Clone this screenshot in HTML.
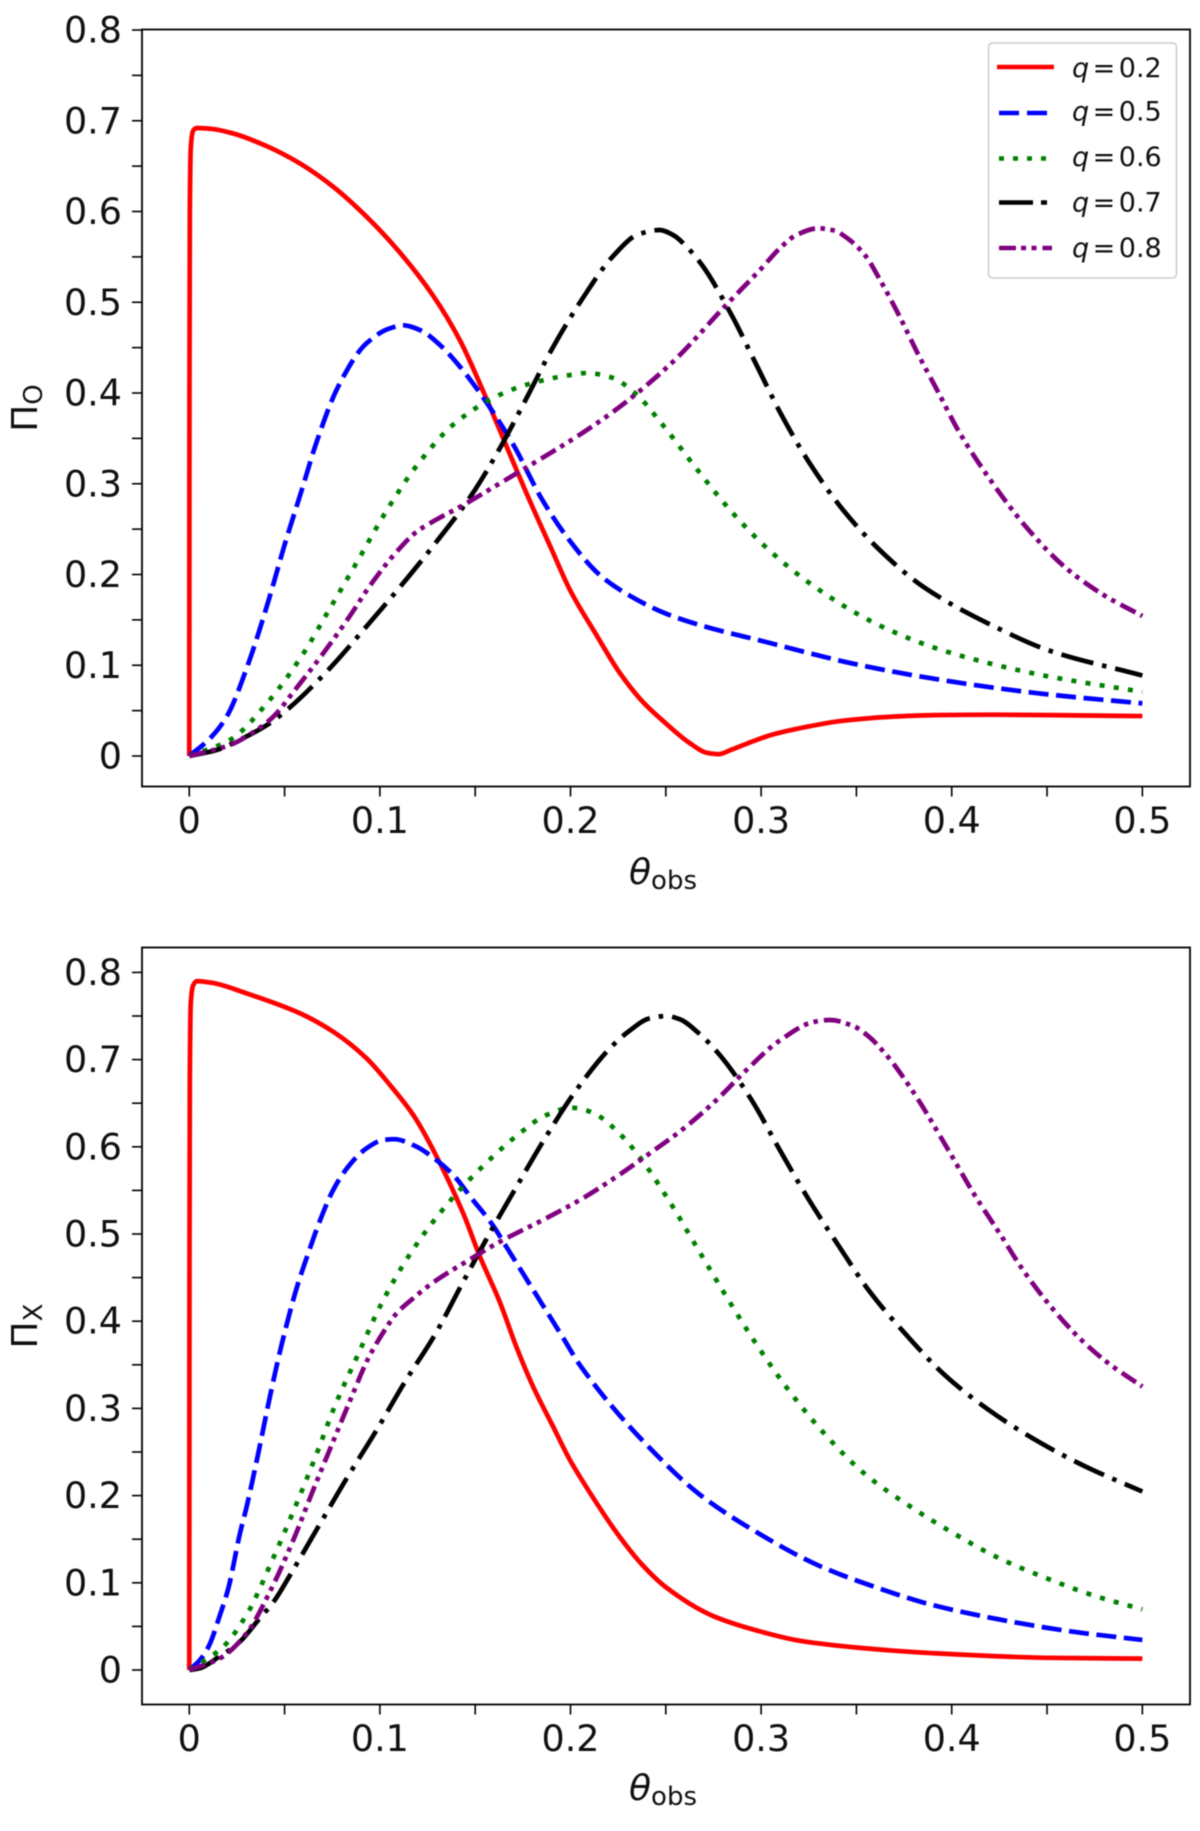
<!DOCTYPE html>
<html>
<head>
<meta charset="utf-8">
<title>Polarization vs observing angle</title>
<style>
html,body{margin:0;padding:0;background:#fff;}
svg{display:block;filter:blur(0.4px);}
text{font-family:"DejaVu Sans","Liberation Sans",sans-serif;fill:#111;}
</style>
</head>
<body>
<svg id="fig" xmlns="http://www.w3.org/2000/svg" width="1200" height="1831" viewBox="0 0 1200 1831">
  <rect x="0" y="0" width="1200" height="1831" fill="#fff"/>
  <g id="top-panel"></g>
  <g id="bottom-panel"></g>

  <text x="629" y="884" font-size="36"><tspan font-style="italic">θ</tspan><tspan font-size="26" dy="5">obs</tspan></text>
  <text x="629" y="1800" font-size="36"><tspan font-style="italic">θ</tspan><tspan font-size="26" dy="5">obs</tspan></text>
  <text transform="translate(37,408) rotate(-90)" text-anchor="middle" font-size="36">Π<tspan font-size="26" dy="5">O</tspan></text>
  <text transform="translate(37,1326) rotate(-90)" text-anchor="middle" font-size="36">Π<tspan font-size="26" dy="5">X</tspan></text>

  <g>
    <rect x="988.5" y="43" width="188" height="235" rx="4" fill="#fff" fill-opacity="0.85" stroke="#ccc" stroke-width="1.5"/>
    <line x1="997" y1="67" x2="1054" y2="67" stroke="#ff0000" stroke-width="4.6"/>
    <line x1="999" y1="113" x2="1050" y2="113" stroke="#0000ff" stroke-width="4.6" stroke-dasharray="20 8"/>
    <line x1="999" y1="158.5" x2="1050" y2="158.5" stroke="#008000" stroke-width="4.6" stroke-dasharray="5 9"/>
    <line x1="999" y1="202.5" x2="1050" y2="202.5" stroke="#000000" stroke-width="4.6" stroke-dasharray="34 8 6 9"/>
    <line x1="999" y1="248" x2="1052" y2="248" stroke="#800080" stroke-width="4.6" stroke-dasharray="17 5 5 5.5 5 6"/>
    <text x="1072" y="77" font-size="27"><tspan font-style="italic">q</tspan><tspan dx="3.5">=</tspan><tspan dx="3.5">0.2</tspan></text>
    <text x="1072" y="120.5" font-size="27"><tspan font-style="italic">q</tspan><tspan dx="3.5">=</tspan><tspan dx="3.5">0.5</tspan></text>
    <text x="1072" y="166" font-size="27"><tspan font-style="italic">q</tspan><tspan dx="3.5">=</tspan><tspan dx="3.5">0.6</tspan></text>
    <text x="1072" y="211.5" font-size="27"><tspan font-style="italic">q</tspan><tspan dx="3.5">=</tspan><tspan dx="3.5">0.7</tspan></text>
    <text x="1072" y="257" font-size="27"><tspan font-style="italic">q</tspan><tspan dx="3.5">=</tspan><tspan dx="3.5">0.8</tspan></text>
  </g>
</svg>
<script>
const xTickValues = [0, 0.1, 0.2, 0.3, 0.4, 0.5];
const xTickLabels = ["0", "0.1", "0.2", "0.3", "0.4", "0.5"];
const xMinorValues = [0.05, 0.15, 0.25, 0.35, 0.45];
const yTickValues = [0, 0.1, 0.2, 0.3, 0.4, 0.5, 0.6, 0.7, 0.8];
const yTickLabels = ["0", "0.1", "0.2", "0.3", "0.4", "0.5", "0.6", "0.7", "0.8"];
const yMinorValues = [0.05, 0.15, 0.25, 0.35, 0.45, 0.55, 0.65, 0.75];

/* Top panel: Pi_O */
const topQ02Theta = [0,.0001,.0003,.0008,.002,.004,.012,.023,.0406,.058,.0755,.093,.11,.128,.142,.155,.1665,.1777,.19,.1997,.2134,.2257,.238,.25,.2623,.2716,.2777,.2838,.293,.305,.3236,.342,.366,.391,.4215,.452,.5];
const topQ02Pi = [0,.4,.6,.67,.689,.692,.691,.686,.672,.653,.6273,.5943,.556,.507,.458,.398,.341,.2857,.228,.183,.134,.092,.0595,.036,.0146,.0035,.002,.0064,.014,.023,.032,.0386,.043,.045,.0455,.045,.044];

const topQ05Theta = [0,.0109,.0196,.031,.0414,.0502,.059,.0668,.0781,.093,.1053,.1124,.121,.1315,.142,.1507,.1586,.17,.185,.198,.2154,.2276,.25,.27,.3,.35,.4,.45,.5];
const topQ05Pi = [0,.0195,.0433,.102,.17,.234,.293,.346,.407,.4548,.4713,.4746,.4694,.4529,.429,.4052,.3813,.343,.283,.2417,.1994,.181,.157,.143,.127,.101,.082,.068,.058];

const topQ06Theta = [0,.0213,.0414,.059,.0738,.0886,.1035,.1196,.1393,.1638,.18,.1997,.2085,.2212,.2338,.248,.2661,.2846,.3051,.328,.36,.39,.42,.45,.5];
const topQ06Pi = [0,.0176,.0598,.1102,.1627,.216,.2703,.3207,.3666,.3989,.411,.4198,.422,.4173,.4,.3658,.3166,.2689,.2251,.1866,.146,.12,.102,.088,.0707];

const topQ07Theta = [0,.0144,.0266,.0414,.0519,.0729,.0921,.1114,.1297,.1481,.1629,.1769,.19,.2058,.2224,.2355,.2468,.2538,.2617,.2696,.2845,.2976,.3107,.3255,.343,.3622,.385,.425,.45,.5];
const topQ07Pi = [0,.0066,.018,.035,.052,.0948,.1407,.1884,.2361,.2876,.339,.3942,.4474,.5025,.551,.5748,.5796,.5741,.5594,.5392,.4859,.4308,.3757,.3225,.2711,.227,.1866,.14,.117,.0887];

const topQ08Theta = [0,.0213,.0353,.0441,.0554,.0703,.0834,.0957,.1088,.1193,.1262,.1438,.163,.1848,.2032,.2224,.239,.2556,.28,.3002,.3098,.3185,.3299,.3386,.3448,.3544,.3622,.3727,.3823,.3928,.4033,.42,.44,.46,.48,.5];
const topQ08Pi = [0,.0121,.0286,.0433,.0727,.1132,.1517,.1903,.2251,.2472,.2564,.2766,.3005,.328,.3518,.3794,.4069,.4382,.4933,.5374,.5594,.5741,.5815,.5789,.5712,.5521,.5253,.4841,.443,.4014,.3592,.305,.25,.207,.177,.1543];

/* Bottom panel: Pi_X */
const botQ02Theta = [0,.0001,.0003,.0008,.002,.004,.012,.03,.0581,.0755,.093,.1053,.1175,.128,.1437,.1525,.163,.1717,.1804,.1909,.1997,.2049,.2257,.2375,.25,.2747,.299,.3204,.355,.39,.45,.5];
const botQ02Pi = [0,.45,.68,.765,.785,.79,.788,.776,.7531,.732,.7015,.6709,.6365,.5963,.5237,.474,.4215,.37,.3249,.279,.2408,.2217,.153,.121,.095,.062,.0445,.0335,.0248,.0193,.014,.013];

const botQ05Theta = [0,.0056,.0101,.0161,.0205,.0266,.0301,.0362,.0423,.0484,.0563,.0624,.0685,.0755,.0834,.093,.1017,.1075,.1189,.128,.1385,.1481,.1586,.1673,.1804,.1961,.2049,.25,.2685,.3,.33,.36,.39,.4343,.4636,.5];
const botQ05Pi = [0,.0115,.0267,.0631,.0937,.1568,.1873,.2485,.3134,.3727,.4377,.4778,.515,.5505,.5773,.5983,.6078,.6087,.6005,.5876,.5677,.5409,.512,.482,.436,.381,.3498,.236,.2,.155,.12,.095,.0745,.0542,.0439,.0345];

const botQ06Theta = [0,.0178,.031,.0432,.0549,.0659,.0764,.0884,.1009,.1155,.1328,.1525,.1744,.1866,.2005,.2075,.2145,.2259,.2352,.2518,.2669,.282,.2977,.3145,.3332,.354,.38,.4,.425,.45,.475,.5];
const botQ06Pi = [0,.0267,.0669,.1242,.1835,.2428,.3028,.3612,.4205,.4759,.5275,.5745,.6173,.6357,.6448,.6422,.6357,.6147,.5914,.5378,.4824,.4274,.373,.3207,.271,.2256,.185,.158,.128,.105,.085,.0696];

const botQ07Theta = [0,.0056,.0144,.0266,.0362,.0449,.0528,.0677,.0826,.0983,.1132,.1288,.1428,.1568,.1717,.1866,.2028,.2207,.2303,.2416,.2504,.2574,.267,.2783,.295,.3098,.3246,.3404,.357,.3762,.3963,.4189,.4433,.4704,.5];
const botQ07Pi = [0,.002,.0134,.0325,.0573,.0803,.1085,.1643,.2198,.2752,.3307,.3842,.4415,.4977,.5543,.6097,.6643,.713,.732,.7473,.75,.7462,.7308,.7053,.6537,.5963,.5409,.4874,.4338,.3842,.3383,.299,.2646,.2331,.2047];

const botQ08Theta = [0,.0161,.0301,.0423,.0546,.065,.0747,.0852,.0939,.1026,.1088,.1175,.128,.1452,.163,.1848,.2049,.2241,.2416,.2591,.2766,.2923,.3089,.3282,.336,.3491,.3561,.3657,.3797,.3972,.412,.4251,.4374,.4513,.4671,.4811,.5];
const botQ08Pi = [0,.0134,.0421,.0898,.1491,.2064,.258,.3134,.3574,.39,.4091,.4263,.4445,.4682,.4912,.5153,.539,.5657,.5925,.6205,.6537,.6881,.7205,.7435,.7454,.7377,.7271,.7053,.6632,.6001,.5447,.5008,.4587,.4186,.3804,.3536,.325];

const SVGNS = "http://www.w3.org/2000/svg";
const thetaMin = -0.0248, thetaMax = 0.525;
const lineColors = ["#ff0000", "#0000ff", "#008000", "#000000", "#800080"];
const lineDashes = ["none", "20 7.6", "5 9.3", "33 9 4.5 9", "17 5.5 4.5 5.5 4.5 6"];
const seriesNames = ["q02", "q05", "q06", "q07", "q08"];

function smoothPath(px, py) {
  const n = px.length;
  const dx = [], m = [];
  for (let i = 0; i < n - 1; i++) {
    dx[i] = px[i + 1] - px[i];
    m[i] = (py[i + 1] - py[i]) / dx[i];
  }
  const t = [m[0]];
  for (let i = 1; i < n - 1; i++) {
    if (m[i - 1] * m[i] <= 0) t[i] = 0;
    else {
      const w1 = 2 * dx[i] + dx[i - 1], w2 = dx[i] + 2 * dx[i - 1];
      t[i] = (w1 + w2) / (w1 / m[i - 1] + w2 / m[i]);
    }
  }
  t[n - 1] = m[n - 2];
  let d = "M" + px[0].toFixed(2) + " " + py[0].toFixed(2);
  for (let i = 0; i < n - 1; i++) {
    const h = dx[i] / 3;
    d += "C" + (px[i] + h).toFixed(2) + " " + (py[i] + h * t[i]).toFixed(2) + " " +
      (px[i + 1] - h).toFixed(2) + " " + (py[i + 1] - h * t[i + 1]).toFixed(2) + " " +
      px[i + 1].toFixed(2) + " " + py[i + 1].toFixed(2);
  }
  return d;
}

function drawPanel(root, prefix, box, yAt0, yAt08, series) {
  const xScale = v => box.left + (v - thetaMin) / (thetaMax - thetaMin) * (box.right - box.left);
  const yScale = v => yAt0 + (yAt08 - yAt0) * v / 0.8;

  series.forEach((s, i) => {
    const p = document.createElementNS(SVGNS, "path");
    
    
    p.setAttribute("d", smoothPath(s[0].map(xScale), s[1].map(yScale)));
    p.setAttribute("fill", "none");
    p.setAttribute("stroke", lineColors[i]);
    p.setAttribute("stroke-width", "4.7");
    p.setAttribute("stroke-linejoin", "round");
    if (lineDashes[i] !== "none") p.setAttribute("stroke-dasharray", lineDashes[i]);
    root.appendChild(p);
  });

  const frame = document.createElementNS(SVGNS, "rect");
  
  
  frame.setAttribute("x", box.left);
  frame.setAttribute("y", box.top);
  frame.setAttribute("width", box.right - box.left);
  frame.setAttribute("height", box.bottom - box.top);
  frame.setAttribute("fill", "none");
  frame.setAttribute("stroke", "#000");
  frame.setAttribute("stroke-width", "1.8");
  root.appendChild(frame);

  function tick(x1, y1, x2, y2, name) {
    const l = document.createElementNS(SVGNS, "line");
    
    
    l.setAttribute("x1", x1);
    l.setAttribute("y1", y1);
    l.setAttribute("x2", x2);
    l.setAttribute("y2", y2);
    l.setAttribute("stroke", "#000");
    l.setAttribute("stroke-width", "1.6");
    root.appendChild(l);
  }
  function label(x, y, str, anchor, name) {
    const t = document.createElementNS(SVGNS, "text");
    
    
    t.setAttribute("x", x);
    t.setAttribute("y", y);
    t.setAttribute("text-anchor", anchor);
    t.setAttribute("font-size", "36.5");
    t.textContent = str;
    root.appendChild(t);
  }

  xTickValues.forEach((v, i) => {
    tick(xScale(v), box.bottom, xScale(v), box.bottom + 10, prefix + "-x-tick");
    label(xScale(v), box.bottom + 46.5, xTickLabels[i], "middle", prefix + "-x-tick-label");
  });
  xMinorValues.forEach(v => {
    tick(xScale(v), box.bottom, xScale(v), box.bottom + 10, prefix + "-x-minor-tick");
  });
  yTickValues.forEach((v, i) => {
    tick(box.left - 10, yScale(v), box.left, yScale(v), prefix + "-y-tick");
    label(box.left - 20, yScale(v) + 12.5, yTickLabels[i], "end", prefix + "-y-tick-label");
  });
  yMinorValues.forEach(v => {
    tick(box.left - 10, yScale(v), box.left, yScale(v), prefix + "-y-minor-tick");
  });
}

drawPanel(document.getElementById("top-panel"), "top",
  {left: 142, right: 1190, top: 29.5, bottom: 786.5}, 756, 30,
  [[topQ02Theta, topQ02Pi], [topQ05Theta, topQ05Pi], [topQ06Theta, topQ06Pi], [topQ07Theta, topQ07Pi], [topQ08Theta, topQ08Pi]]);

drawPanel(document.getElementById("bottom-panel"), "bottom",
  {left: 142, right: 1190, top: 947.5, bottom: 1704.5}, 1670, 972.4,
  [[botQ02Theta, botQ02Pi], [botQ05Theta, botQ05Pi], [botQ06Theta, botQ06Pi], [botQ07Theta, botQ07Pi], [botQ08Theta, botQ08Pi]]);
</script>
</body>
</html>
